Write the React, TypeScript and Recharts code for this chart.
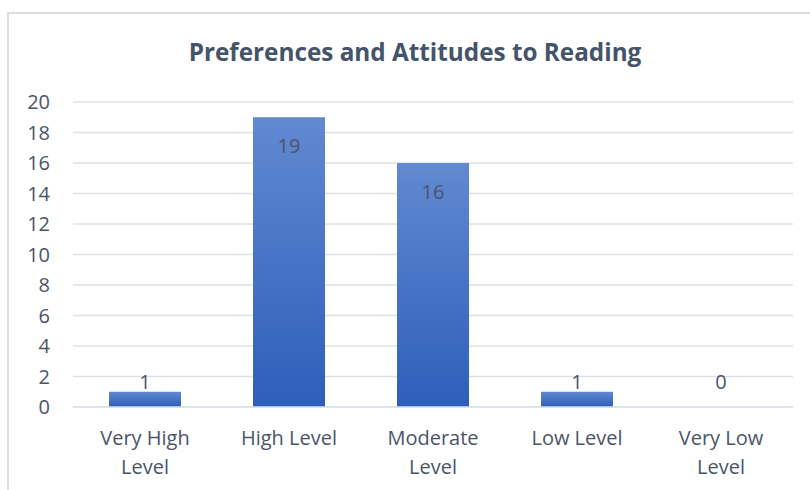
import React from "react";
import { BarChart, Bar, XAxis, YAxis, CartesianGrid } from "recharts";

const title = "Preferences and Attitudes to Reading";
const categories = ["Very High Level", "High Level", "Moderate Level", "Low Level", "Very Low Level"];
const categoryLines = [["Very High", "Level"], ["High Level"], ["Moderate", "Level"], ["Low Level"], ["Very Low", "Level"]];
const counts = [1, 19, 16, 1, 0];
const yTicks = [0, 2, 4, 6, 8, 10, 12, 14, 16, 18, 20];

const data = categories.map((c, i) => ({ name: c, value: counts[i] }));

const FONT = "'Open Sans', 'Noto Sans', sans-serif";
const TEXT = "#4A5568";

const XTick = (props: any) => {
  const { x, y, payload } = props;
  const idx = categories.indexOf(payload.value);
  const lines = idx >= 0 ? categoryLines[idx] : [String(payload.value)];
  return (
    <text x={x} y={y} textAnchor="middle" fill={TEXT} fontFamily={FONT} fontSize={20}>
      {lines.map((l, i) => (
        <tspan key={i} x={x} dy={i === 0 ? 38 : 29}>
          {l}
        </tspan>
      ))}
    </text>
  );
};

const BarWithLabel = (props: any) => {
  const { x, y, width, height, value } = props;
  const v = Array.isArray(value) ? value[1] - value[0] : value;
  const cx = Number(x) + Number(width) / 2;
  const top = Number(y);
  const bottom = Number(y) + Number(height);
  const cy = Math.min(top + 29, bottom - 25);
  return (
    <g>
      {Number(height) > 0 && <rect x={x} y={y} width={width} height={height} fill="url(#barGrad)" />}
      <text x={cx} y={cy} dy="0.35em" textAnchor="middle" fill={TEXT} fontFamily={FONT} fontSize={20}>
        {v}
      </text>
    </g>
  );
};

export default function App() {
  return (
    <div style={{ position: "absolute", left: 0, top: 0, width: 810, height: 490, overflow: "hidden", background: "#fff" }}>
      <div
        style={{
          position: "absolute",
          left: 7,
          top: 12,
          width: 830,
          height: 520,
          border: "2px solid #DADDE2",
          boxSizing: "border-box",
        }}
      />
      <div style={{ position: "absolute", left: 0, top: 0 }}>
        <BarChart
          width={810}
          height={490}
          data={data}
          margin={{ top: 102, right: 17, bottom: 13, left: 13 }}
          barCategoryGap="25%"
        >
          <defs>
            <linearGradient id="barGrad" x1="0" y1="0" x2="0" y2="1">
              <stop offset="0%" stopColor="#6289D1" />
              <stop offset="100%" stopColor="#2D5EBA" />
            </linearGradient>
          </defs>
          <CartesianGrid vertical={false} stroke="#DDE1E7" strokeWidth={1.5} />
          <XAxis
            dataKey="name"
            axisLine={{ stroke: "#DDE1E7", strokeWidth: 1.5 }}
            tickLine={false}
            tickSize={0}
            tickMargin={0}
            height={70}
            interval={0}
            tick={<XTick />}
          />
          <YAxis
            domain={[0, 20]}
            ticks={yTicks}
            axisLine={false}
            tickLine={false}
            tickSize={0}
            tickMargin={23}
            width={60}
            interval={0}
            tick={{ fill: TEXT, fontFamily: FONT, fontSize: 20 }}
          />
          <Bar dataKey="value" fill="url(#barGrad)" isAnimationActive={false} shape={<BarWithLabel />} />
        </BarChart>
      </div>
      <svg width={810} height={490} style={{ position: "absolute", left: 0, top: 0, pointerEvents: "none" }}>
        <text x={415} y={61} textAnchor="middle" fill="#44546A" fontFamily={FONT} fontWeight="bold" fontSize={24.3}>
          {title}
        </text>
      </svg>
    </div>
  );
}
